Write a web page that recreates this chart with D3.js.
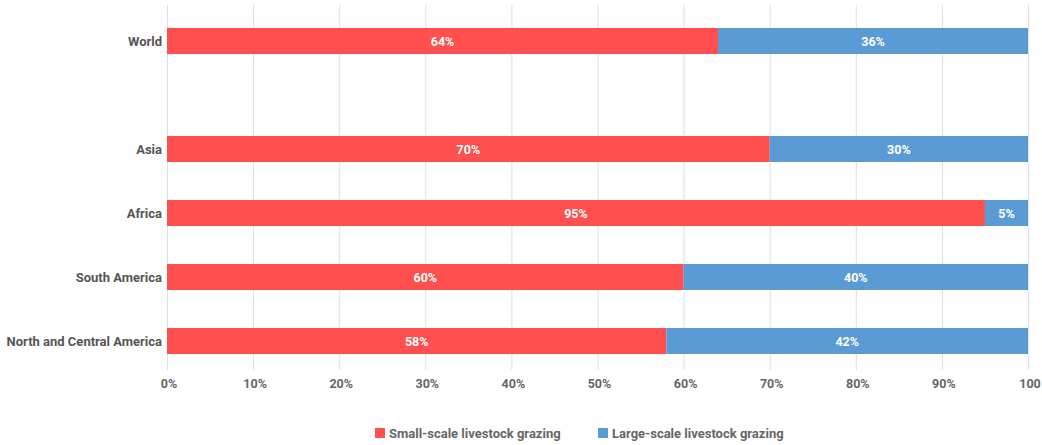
<!DOCTYPE html>
<html><head><meta charset="utf-8">
<script src="https://cdn.jsdelivr.net/npm/d3@7"></script>
<style>
body{margin:0;background:#fff;}
text{font-family:Roboto,"Noto Sans",sans-serif;font-weight:700;}
</style></head>
<body><svg id="c" width="1042" height="445"></svg>
<script>
const worldCategory = ["World"];
const regionCategories = ["Asia","Africa","South America","North and Central America"];
const smallScale = {"World":64,"Asia":70,"Africa":95,"South America":60,"North and Central America":58};
const largeScale = {"World":36,"Asia":30,"Africa":5,"South America":40,"North and Central America":42};
const xTicks = [0,10,20,30,40,50,60,70,80,90,100];
const tickLabels = ["0%","10%","20%","30%","40%","50%","60%","70%","80%","90%","100"];
const seriesNames = ["Small-scale livestock grazing","Large-scale livestock grazing"];
const colors = ["#ff4f4f","#5b9bd5"];

const svg = d3.select("#c");
const x = d3.scaleLinear().domain([0,100]).range([167,1028]);
const yW = d3.scaleBand().domain(worldCategory).range([9,73]).paddingInner(0.594).paddingOuter(0.297);
const yR = d3.scaleBand().domain(regionCategories).range([117,373]).paddingInner(0.594).paddingOuter(0.297);
const yPos = c => worldCategory.includes(c) ? yW(c) : yR(c);
const bw = yR.bandwidth();
const all = worldCategory.concat(regionCategories);

// grid
svg.append("g").selectAll("line").data(xTicks).join("line")
  .attr("x1",d=>x(d)+0.5).attr("x2",d=>x(d)+0.5).attr("y1",5).attr("y2",370)
  .attr("stroke","#e0e0e0").attr("stroke-width",1);

// x axis labels
svg.append("g").selectAll("text").data(xTicks).join("text")
  .attr("x",d=>x(d)+2).attr("y",388).attr("text-anchor","middle")
  .attr("font-size",12.5).attr("fill","#666").text((d,i)=>tickLabels[i]);

// bars
const g = svg.append("g");
all.forEach(c=>{
  const s = smallScale[c], l = largeScale[c], y0 = yPos(c);
  g.append("rect").attr("x",x(0)).attr("y",y0).attr("width",x(s)-x(0)).attr("height",bw).attr("fill",colors[0]);
  g.append("rect").attr("x",x(s)).attr("y",y0).attr("width",x(s+l)-x(s)).attr("height",bw).attr("fill",colors[1]);
  g.append("text").attr("x",(x(0)+x(s))/2).attr("y",y0+bw/2+4.5).attr("text-anchor","middle")
    .attr("font-size",12.5).attr("fill","#fff").text(s+"%");
  g.append("text").attr("x",(x(s)+x(s+l))/2).attr("y",y0+bw/2+4.5).attr("text-anchor","middle")
    .attr("font-size",12.5).attr("fill","#fff").text(l+"%");
  svg.append("text").attr("x",162).attr("y",y0+bw/2+4.5).attr("text-anchor","end")
    .attr("font-size",13).attr("fill","#555").text(c);
});

// legend
const lg = svg.append("g");
const legX = [375, 598];
seriesNames.forEach((n,i)=>{
  lg.append("rect").attr("x",legX[i]).attr("y",428).attr("width",10).attr("height",10).attr("fill",colors[i]);
  lg.append("text").attr("x",legX[i]+14).attr("y",437.5).attr("font-size",13).attr("fill","#666").text(n);
});
</script></body></html>
